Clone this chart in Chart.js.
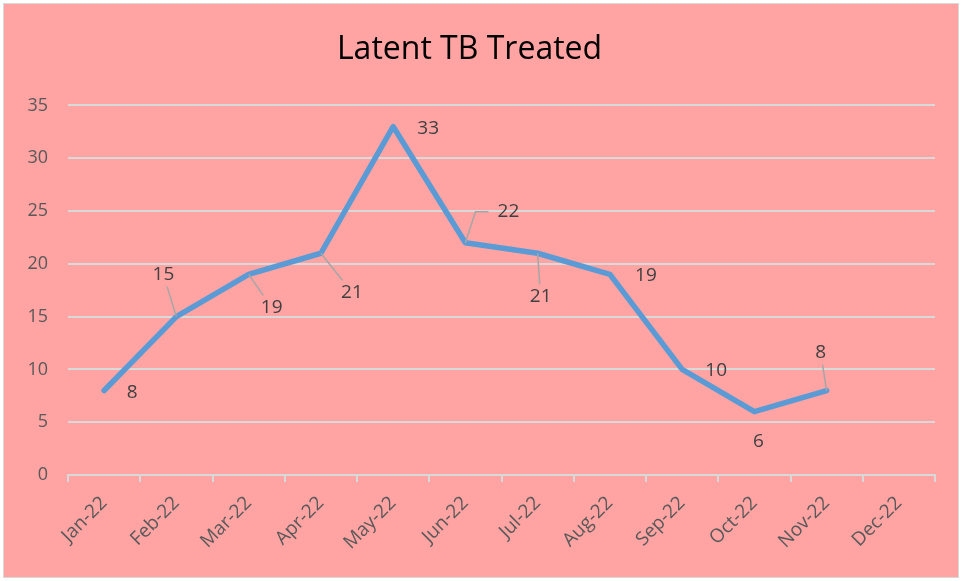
<!DOCTYPE html>
<html>
<head>
<meta charset="utf-8">
<script src="https://cdn.jsdelivr.net/npm/chart.js@4/dist/chart.umd.min.js"></script>
<style>
  body { margin: 0; background: #fff; }
  #wrap { position: absolute; left: 3px; top: 3px; width: 954px; height: 573px;
          border: 1px solid #d9d9d9; background: #ffa3a3; }
</style>
</head>
<body>
<div id="wrap"><canvas id="chart" width="954" height="573"></canvas></div>
<script>
const months = ["Jan-22", "Feb-22", "Mar-22", "Apr-22", "May-22", "Jun-22",
                "Jul-22", "Aug-22", "Sep-22", "Oct-22", "Nov-22", "Dec-22"];
const treated = [8, 15, 19, 21, 33, 22, 21, 19, 10, 6, 8, null];
const yTicks = [0, 5, 10, 15, 20, 25, 30, 35];

// where each value label sits relative to its point, and what leader it gets
const labelPos = [
    [28, 2, null], [-13, -42, "line"], [23, 33, "line"], [31, 39, "line"],
    [35, 2, null], [43, -31, "elbow"], [3, 43, "line"], [36, 1, null],
    [34, 1, null], [4, 30, null], [-6, -38, "line"], [0, 0, null]
];

const labelsPlugin = {
    id: "valueLabels",
    afterDatasetsDraw(chart) {
        const ctx = chart.ctx;
        const meta = chart.getDatasetMeta(0);
        ctx.save();
        ctx.font = "19px 'Open Sans'";
        ctx.textAlign = "center";
        ctx.textBaseline = "middle";
        meta.data.forEach((pt, i) => {
            const v = treated[i];
            if (v === null) return;
            const [dx, dy, leader] = labelPos[i];
            const lx = pt.x + dx, ly = pt.y + dy;
            const txt = String(v);
            const w = ctx.measureText(txt).width;
            ctx.strokeStyle = "#a6a6a6";
            ctx.lineWidth = 1.5;
            if (leader === "line") {
                // clip the line at the label box
                const hw = w / 2 + 3, hh = 12;
                const ax = -dx, ay = -dy;
                const t = Math.min(ax !== 0 ? hw / Math.abs(ax) : 1e9, ay !== 0 ? hh / Math.abs(ay) : 1e9);
                ctx.beginPath();
                ctx.moveTo(pt.x, pt.y);
                ctx.lineTo(lx + ax * t, ly + ay * t);
                ctx.stroke();
            } else if (leader === "elbow") {
                const ex = lx - w / 2 - 9;
                ctx.beginPath();
                ctx.moveTo(pt.x, pt.y);
                ctx.lineTo(ex - 13, ly);
                ctx.lineTo(ex, ly);
                ctx.stroke();
            }
            ctx.fillStyle = "#404040";
            ctx.fillText(txt, lx, ly);
        });
        ctx.restore();
    }
};

new Chart(document.getElementById("chart"), {
    type: "line",
    data: {
        labels: months,
        datasets: [{
            data: treated,
            borderColor: "#5b9bd5",
            borderWidth: 5.5,
            pointRadius: 0,
            tension: 0,
            borderCapStyle: "round",
            borderJoinStyle: "round"
        }]
    },
    options: {
        responsive: false,
        animation: false,
        layout: { padding: { left: 0, right: 23, top: 0, bottom: 0 } },
        plugins: {
            legend: { display: false },
            tooltip: { enabled: false },
            title: {
                display: true,
                text: "Latent TB Treated",
                color: "#000",
                font: { family: "'Open Sans'", size: 32, weight: "normal" },
                padding: { top: 27, bottom: 36 }
            }
        },
        scales: {
            x: {
                offset: true,
                grid: { drawOnChartArea: false, color: "#d9d9d9", lineWidth: 2, tickLength: 7, offset: true },
                border: { display: true, color: "#d9d9d9", width: 2 },
                ticks: {
                    color: "#595959",
                    font: { family: "'Open Sans'", size: 19 },
                    minRotation: 45, maxRotation: 45,
                    padding: 10
                },
                afterFit(s) { s.height = 102; }
            },
            y: {
                min: 0, max: 35,
                afterBuildTicks(s) { s.ticks = yTicks.map(v => ({ value: v })); },
                grid: { color: "#d9d9d9", lineWidth: 2, drawTicks: false },
                border: { display: false },
                ticks: {
                    color: "#595959",
                    font: { family: "'Open Sans'", size: 18 },
                    padding: 20
                },
                afterFit(s) { s.width = 64; }
            }
        }
    },
    plugins: [labelsPlugin]
});
</script>
</body>
</html>
